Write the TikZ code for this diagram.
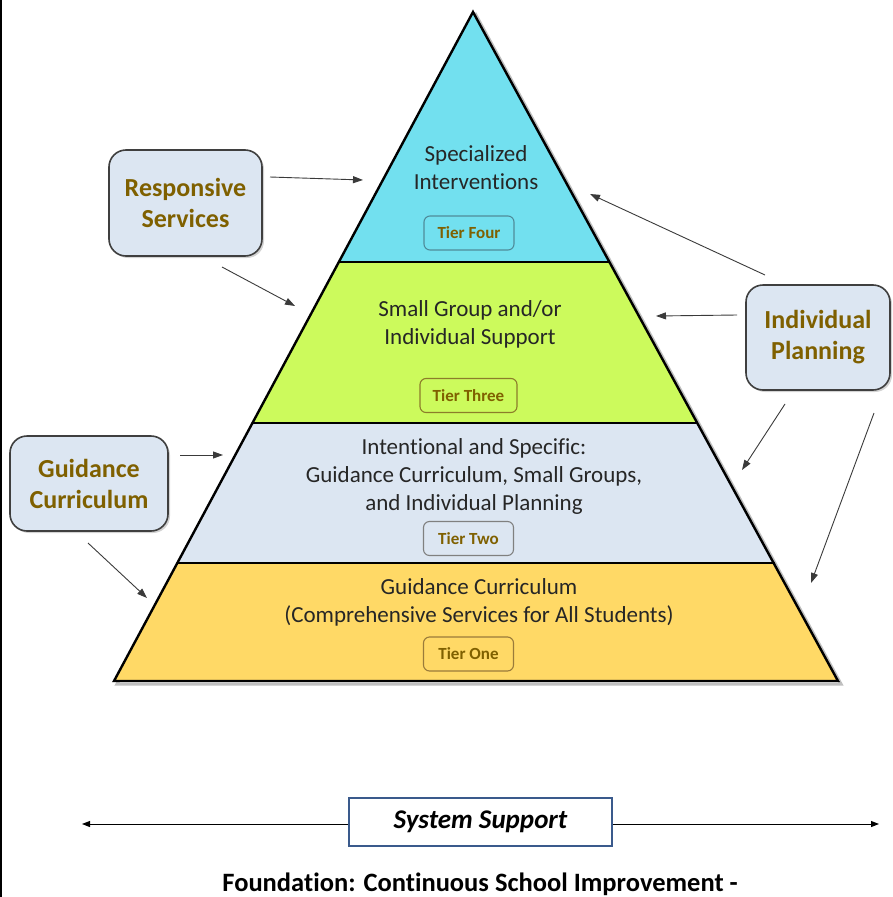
\documentclass[tikz,border=0pt]{standalone}
\usepackage{fontspec}
\setmainfont{Carlito}[Ligatures=NoCommon]
\usetikzlibrary{arrows.meta,shadows}
\definecolor{tfour}{HTML}{72E0EF}
\definecolor{tthree}{HTML}{CCFA5C}
\definecolor{ttwo}{HTML}{DCE6F2}
\definecolor{tone}{HTML}{FFD966}
\definecolor{olivetext}{HTML}{7F6000}
\definecolor{boxfill}{HTML}{DCE6F2}
\definecolor{boxedge}{HTML}{3F3F3F}
\definecolor{sysblue}{HTML}{3A5A8C}
\definecolor{arrowgray}{HTML}{3A3A3A}
\definecolor{lbfour}{HTML}{4F8C9A}
\definecolor{lbthree}{HTML}{8C7D2A}
\definecolor{lbtwo}{HTML}{808080}
\definecolor{lbone}{HTML}{9A7B3A}
\tikzset{
  sidebox/.style={draw=boxedge, line width=1.6pt, fill=boxfill, rounded corners=17pt,
    align=center, font=\fontsize{26}{31}\selectfont\bfseries, text=olivetext,
    drop shadow={shadow xshift=2pt, shadow yshift=-2pt, opacity=0.35}},
  tierlabel/.style={draw=#1, line width=1.1pt, rounded corners=6pt, minimum width=90pt,
    minimum height=34pt, inner xsep=6pt, font=\fontsize{17}{19}\selectfont\bfseries, text=olivetext},
  tiertext/.style={align=center, font=\fontsize{23}{28}\selectfont, text=black!85},
  pointer/.style={draw=arrowgray, line width=0.9pt, -{Triangle[length=10pt,width=7pt]}},
}
\begin{document}
\begin{tikzpicture}[x=1pt,y=-1pt]
\useasboundingbox (0,0) rectangle (892,897);
% frame edge on the left
\draw[line width=1.5pt] (0.75,0) -- (0.75,897);

% pyramid shadow, tiers, dividers and outline
\draw[black!25, line width=3pt] (117,684) -- (841,684) -- (476,15) -- cycle;
\fill[tone]   (114,681) -- (838,681) -- (774.6,563) -- (177.1,563) -- cycle;
\fill[ttwo]   (177.1,563) -- (774.6,563) -- (697.4,423) -- (252.6,423) -- cycle;
\fill[tthree] (252.6,423) -- (697.4,423) -- (609.5,262) -- (338.9,262) -- cycle;
\fill[tfour]  (338.9,262) -- (609.5,262) -- (473,12) -- cycle;
\draw[line width=2.2pt] (177.1,563) -- (774.6,563);
\draw[line width=2.2pt] (252.6,423) -- (697.4,423);
\draw[line width=2.2pt] (338.9,262) -- (609.5,262);
\draw[line width=2.4pt, line join=miter] (114,681) -- (838,681) -- (473,12) -- cycle;

% tier contents
\node[tiertext] (t4) at (476,168) {Specialized\\Interventions};
\node[tiertext] (t3) at (470,324) {Small Group and/or\\Individual Support};
\node[tiertext] (t2) at (474,476) {Intentional and Specific:\\Guidance Curriculum, Small Groups,\\and Individual Planning};
\node[tiertext] (t1) at (479,602) {Guidance Curriculum\\(Comprehensive Services for All Students)};

% side boxes
\node[sidebox, minimum width=153pt, minimum height=106pt] (rs) at (185.5,203) {Responsive\\Services};
\node[sidebox, minimum width=144pt, minimum height=105pt] (ip) at (818,337.5) {Individual\\Planning};
\node[sidebox, minimum width=158pt, minimum height=95pt] (gc) at (89,483.5) {Guidance\\Curriculum};

% pointer ends
\coordinate (rsa) at (270,177);  \coordinate (rsA) at (363,180);
\coordinate (rsb) at (222,267);  \coordinate (rsB) at (295,306);
\coordinate (gca) at (180,455);  \coordinate (gcA) at (223,455);
\coordinate (gcb) at (88,543);   \coordinate (gcB) at (147,598);
\coordinate (ipa) at (765,275);  \coordinate (ipA) at (590,194);
\coordinate (ipb) at (737,315);  \coordinate (ipB) at (656,316);
\coordinate (ipc) at (785,404);  \coordinate (ipC) at (742,470);
\coordinate (ipd) at (874,413);  \coordinate (ipD) at (811,583);
\draw[pointer] (rsa) -- (rsA);
\draw[pointer] (rsb) -- (rsB);
\draw[pointer] (gca) -- (gcA);
\draw[pointer] (gcb) -- (gcB);
\draw[pointer] (ipa) -- (ipA);
\draw[pointer] (ipb) -- (ipB);
\draw[pointer] (ipc) -- (ipC);
\draw[pointer] (ipd) -- (ipD);

% tier labels
\node[tierlabel=lbfour] (l4) at (469,233) {Tier Four};
\node[tierlabel=lbthree, minimum width=97pt] (l3) at (468.5,395.5) {Tier Three};
\node[tierlabel=lbtwo] (l2) at (468.5,538.5) {Tier Two};
\node[tierlabel=lbone] (l1) at (468.5,654) {Tier One};

% system support bar
\node[draw=sysblue, line width=2pt, fill=white, minimum width=263pt, minimum height=48pt,
  font=\fontsize{27}{30}\selectfont\bfseries\itshape] (sys) at (480.5,822) {System Support};
\coordinate (sysL) at (82,824);
\coordinate (sysR) at (879,824);
\draw[line width=1pt, -{Triangle[length=8pt,width=6pt]}] (sys.west |- sysL) -- (sysL);
\draw[line width=1pt, -{Triangle[length=8pt,width=6pt]}] (sys.east |- sysR) -- (sysR);

\node[font=\fontsize{26.5}{30}\selectfont\bfseries] (found) at (480,884) {Foundation: Continuous School Improvement -};
\end{tikzpicture}
\end{document}
